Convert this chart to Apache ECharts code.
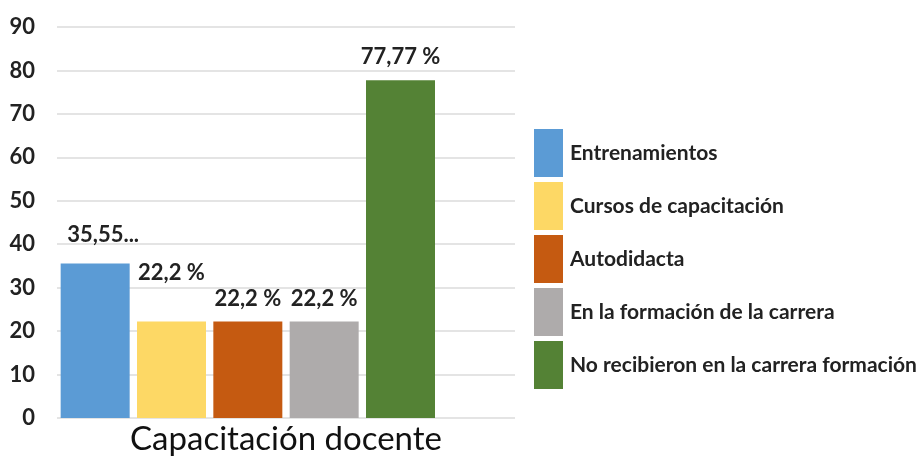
<!DOCTYPE html>
<html>
<head>
<meta charset="utf-8">
<script src="https://cdn.jsdelivr.net/npm/echarts@6/dist/echarts.min.js"></script>
<style>
  html, body { margin: 0; padding: 0; background: #fff; }
  #main { width: 919px; height: 462px; }
</style>
</head>
<body>
<div id="main"></div>
<script>
// categorias (una columna por serie, la ultima vacia)
var categorias = ['Entrenamientos', 'Cursos de capacitación', 'Autodidacta', 'En la formación de la carrera', 'No recibieron en la carrera formación'];
var valores = [35.55, 22.2, 22.2, 22.2, 77.77];
var etiquetas = ['35,55...', '22,2 %', '22,2 %', '22,2 %', '77,77 %'];
var colores = ['#5B9BD5', '#FDD865', '#C55A11', '#AEABAB', '#548235'];
var ticksY = [0, 10, 20, 30, 40, 50, 60, 70, 80, 90];

var fuente = "Lato, 'Open Sans', sans-serif";
var huecos = ['a', 'b', 'c', 'd', 'e', 'f'];

var series = [];
for (var i = 0; i < categorias.length; i++) {
    var d = [];
    for (var j = 0; j < huecos.length; j++) {
        d.push(j == i ? valores[i] : null);
    }
    series.push({
        name: categorias[i],
        type: 'bar',
        data: d,
        barWidth: 69,
        barGap: '-100%',
        itemStyle: { color: colores[i] },
        label: {
            show: true,
            position: 'top',
            distance: i == 1 ? 38 : (i == 0 ? 18 : 12),
            offset: i == 0 ? [8, 0] : [0, 0],
            formatter: (function (t) { return function () { return t; }; })(etiquetas[i]),
            fontFamily: fuente,
            fontSize: 22,
            fontWeight: 'bold',
            color: '#222'
        }
    });
}

var myChart = echarts.init(document.getElementById('main'));
var option = {
    animation: false,
    textStyle: { fontFamily: fuente },
    grid: { left: 57, top: 27, width: 458, height: 391, outerBoundsMode: 'none', containLabel: false },
    legend: {
        orient: 'vertical',
        left: 529,
        top: 124,
        icon: 'rect',
        itemWidth: 29,
        itemHeight: 48,
        itemGap: 5,
        data: categorias,
        textStyle: { fontFamily: fuente, fontSize: 21, fontWeight: 'bold', color: '#222', padding: [0, 0, 0, 2] }
    },
    xAxis: {
        type: 'category',
        data: huecos,
        axisLine: { show: false },
        axisTick: { show: false },
        axisLabel: { show: false },
        name: 'Capacitación docente',
        nameLocation: 'middle',
        nameGap: 5,
        nameTextStyle: { fontFamily: fuente, fontSize: 33, color: '#111' }
    },
    yAxis: {
        type: 'value',
        min: ticksY[0],
        max: ticksY[ticksY.length - 1],
        interval: 10,
        axisLabel: { fontFamily: fuente, fontSize: 22, fontWeight: 'bold', color: '#222', margin: 22 },
        splitLine: { lineStyle: { color: '#e4e4e4', width: 2 } }
    },
    series: series
};
myChart.setOption(option);
</script>
</body>
</html>
